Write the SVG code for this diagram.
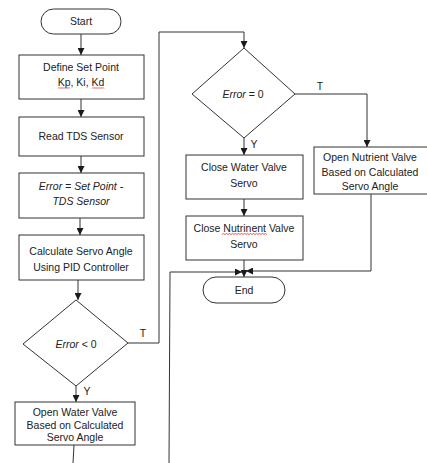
<svg xmlns="http://www.w3.org/2000/svg" width="427" height="463" viewBox="0 0 427 463">
<defs>
<marker id="ah" viewBox="0 0 8 8" refX="8" refY="4" markerWidth="7" markerHeight="7" markerUnits="userSpaceOnUse" orient="auto">
<path d="M0,0 L8,4 L0,8 Z" fill="#1a1a1a"/>
</marker>
<style>
.n{fill:#fff;stroke:#333;stroke-width:1}
.c{fill:none;stroke:#333;stroke-width:1}
.a{marker-end:url(#ah)}
text{font-family:"Liberation Sans",Arial,sans-serif;font-size:10.5px;fill:#222;text-anchor:middle}
.i{font-style:italic}
.sq{fill:none;stroke:#e03030;stroke-width:0.8}
</style>
</defs>
<rect width="427" height="463" fill="#fff"/>
<g id="connectors">
<path class="c a" d="M81,34 V55"/>
<path class="c a" d="M81,99 V117"/>
<path class="c a" d="M81,156 V173"/>
<path class="c a" d="M80,218 V235"/>
<path class="c a" d="M78,280 V300"/>
<path class="c a" d="M76,386 V402"/>
<path class="c" d="M74,445 L73,463"/>
<path class="c a" d="M128,343 H159 V32 H244 V48"/>
<path class="c a" d="M295,94 H367 V147"/>
<path class="c a" d="M244,138 V155"/>
<path class="c a" d="M244,199 V216"/>
<path class="c a" d="M244,260 V277"/>
<path class="c a" d="M371,194 V271 H246"/>
<path class="c a" d="M169,463 L170,272 H242"/>
<text x="143" y="337">T</text>
<text x="87" y="395">Y</text>
<text x="320" y="90">T</text>
<text x="254" y="148">Y</text>
</g>
<g id="start">
<rect class="n" x="41" y="9" width="80" height="25" rx="12.5"/>
<text x="81" y="25">Start</text>
</g>
<g id="define">
<rect class="n" x="19" y="55" width="125" height="44"/>
<text x="81" y="71">Define Set Point</text>
<text x="81" y="86">Kp, Ki, Kd</text>
<path class="sq" d="M58,88.5 l1,-1 l1,1 l1,-1 l1,1 l1,-1 l1,1 l1,-1 l1,1 l1,-1 l1,1 l1,-1 l1,1"/>
<path class="sq" d="M92,88.5 l1,-1 l1,1 l1,-1 l1,1 l1,-1 l1,1 l1,-1 l1,1 l1,-1 l1,1 l1,-1 l1,1"/>
</g>
<g id="read">
<rect class="n" x="19" y="117" width="125" height="39"/>
<text x="81" y="140">Read TDS Sensor</text>
</g>
<g id="error">
<rect class="n" x="19" y="173" width="125" height="45"/>
<text class="i" x="81" y="190">Error = Set Point -</text>
<text class="i" x="81" y="205">TDS Sensor</text>
</g>
<g id="calc">
<rect class="n" x="19" y="235" width="125" height="45"/>
<text x="81" y="255">Calculate Servo Angle</text>
<text x="81" y="271">Using PID Controller</text>
</g>
<g id="dec1">
<polygon class="n" points="76,300 128,343 76,386 23,344"/>
<text x="76" y="348"><tspan class="i">Error</tspan> &lt; 0</text>
</g>
<g id="openwater">
<rect class="n" x="15" y="402" width="120" height="43"/>
<text x="75" y="416">Open Water Valve</text>
<text x="75" y="429">Based on Calculated</text>
<text x="75" y="441">Servo Angle</text>
</g>
<g id="dec2">
<polygon class="n" points="244,48 295,94 244,138 192,94"/>
<text x="243" y="98"><tspan class="i">Error</tspan> = 0</text>
</g>
<g id="closewater">
<rect class="n" x="186" y="155" width="117" height="44"/>
<text x="244" y="171">Close Water Valve</text>
<text x="244" y="187">Servo</text>
</g>
<g id="closenut">
<rect class="n" x="186" y="216" width="117" height="44"/>
<text x="244" y="232">Close Nutrinent Valve</text>
<text x="244" y="248">Servo</text>
<path class="sq" d="M222,234.5 l1.5,-1 l1.5,1 l1.5,-1 l1.5,1 l1.5,-1 l1.5,1 l1.5,-1 l1.5,1 l1.5,-1 l1.5,1 l1.5,-1 l1.5,1 l1.5,-1 l1.5,1 l1.5,-1 l1.5,1 l1.5,-1 l1.5,1 l1.5,-1 l1.5,1 l1.5,-1 l1.5,1 l1.5,-1 l1.5,1 l1.5,-1 l1.5,1 l1.5,-1 l1.5,1 l1.5,-1 l1.5,1"/>
</g>
<g id="opennut">
<rect class="n" x="314" y="147" width="120" height="47"/>
<text x="370" y="161">Open Nutrient Valve</text>
<text x="370" y="176">Based on Calculated</text>
<text x="370" y="190">Servo Angle</text>
</g>
<g id="end">
<rect class="n" x="203" y="277" width="82" height="26" rx="13"/>
<text x="244" y="294">End</text>
</g>
</svg>
